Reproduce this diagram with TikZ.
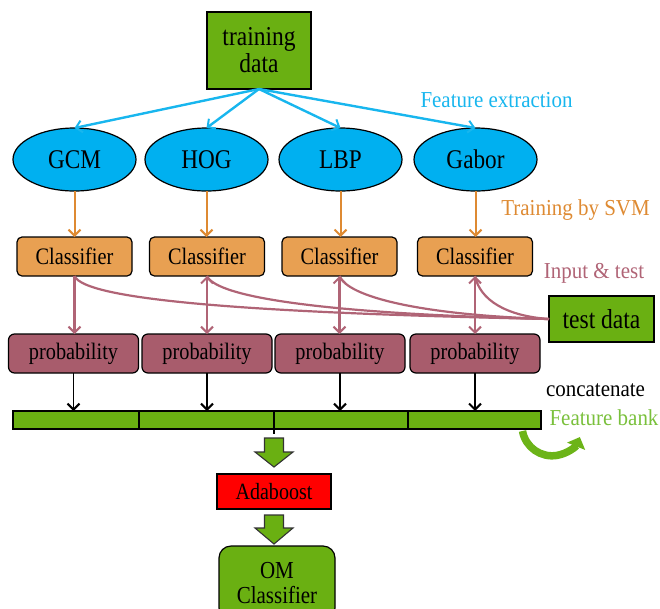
\documentclass[tikz,border=0pt]{standalone}
\usepackage{fontspec}
\setmainfont{Liberation Serif}
\newfontfamily\condf{Liberation Serif}[FakeStretch=0.86]
\newfontfamily\labf{Liberation Serif}[FakeStretch=0.92]
\usetikzlibrary{shapes.geometric,arrows.meta,calc}
\definecolor{gfill}{RGB}{106,176,18}
\definecolor{bfill}{RGB}{0,176,240}
\definecolor{bline}{RGB}{24,182,238}
\definecolor{ofill}{RGB}{232,160,82}
\definecolor{oline}{RGB}{222,138,50}
\definecolor{pfill}{RGB}{168,92,108}
\definecolor{pline}{RGB}{176,100,118}
\definecolor{gtext}{RGB}{122,192,60}
\definecolor{garc}{RGB}{108,180,24}
\tikzset{tipb/.tip={Straight Barb[length=6pt,width=12pt,line width=2pt]}}
\begin{document}
\begin{tikzpicture}[x=1pt,y=-1pt,
  every node/.style={inner sep=0pt, outer sep=0pt},
  box/.style={draw=black, line width=1.2pt, align=center, text=black},
  gbox/.style={box, fill=gfill},
  ell/.style={ellipse, draw=black, line width=1.2pt, fill=bfill, minimum width=123pt, minimum height=63pt, font=\condf\fontsize{27}{30}\selectfont},
  clf/.style={box, fill=ofill, rounded corners=5pt, minimum width=115pt, minimum height=39pt, font=\condf\fontsize{23.6}{26}\selectfont},
  prob/.style={box, fill=pfill, rounded corners=6pt, minimum width=130pt, minimum height=39pt, font=\condf\fontsize{23.6}{26}\selectfont},
  seg/.style={draw=black, line width=1.2pt, fill=gfill, minimum height=18pt},
  lab/.style={font=\labf\fontsize{22.8}{24}\selectfont},
  barr/.style={draw=bline, line width=2.4pt, -{tipb}},
  oarr/.style={draw=oline, line width=2pt, -{tipb}},
  pk/.style={draw=pline, line width=2.2pt},
  karr/.style={draw=black, line width=1.9pt, -{tipb}},
  blk/.style={draw=black!80, line width=1.1pt, fill=gfill, line join=miter}
]
\useasboundingbox (0,0) rectangle (660,608);

% training data
\node[gbox, minimum width=104pt, minimum height=77pt, font=\condf\fontsize{27.3}{27}\selectfont] (train) at (259,50.5) {training\\data};

% feature ellipses
\node[ell] (e1) at (74.5,159.5) {GCM};
\node[ell] (e2) at (206.5,159.5) {HOG};
\node[ell] (e3) at (340.5,159.5) {LBP};
\node[ell] (e4) at (475.5,159.5) {Gabor};

\foreach \i in {1,...,4} \draw[barr] (train.south) -- (e\i.north);

% classifiers
\node[clf] (c1) at (74.5,256.5) {Classifier};
\node[clf] (c2) at (207,256.5) {Classifier};
\node[clf] (c3) at (339.5,256.5) {Classifier};
\node[clf] (c4) at (475,256.5) {Classifier};

\foreach \i in {1,...,4} \draw[oarr] (e\i.south) -- (e\i.south |- c\i.north);

% probability
\node[prob] (p1) at (73.5,353.5) {probability};
\node[prob] (p2) at (207,353.5) {probability};
\node[prob] (p3) at (340,353.5) {probability};
\node[prob] (p4) at (475,353.5) {probability};

% test data
\node[gbox, minimum width=105pt, minimum height=46pt, font=\condf\fontsize{27.4}{28}\selectfont] (tdata) at (601.5,319) {test data};

% pink connectors
\draw[pk] (tdata.west) .. controls +(-298,-6) and +(10.5,24) .. (c1.south);
\draw[pk] (tdata.west) .. controls +(-218,-5) and +(10,22) .. (c2.south);
\draw[pk] (tdata.west) .. controls +(-128,-4) and +(8.5,21) .. (c3.south);
\draw[pk] (tdata.west) .. controls +(-43,-3) and +(5,24) .. (c4.south);
\draw[pk, -{tipb}] (c1.south) -- (c1.south |- p1.north);
\foreach \i in {2,3,4} \draw[pk, {tipb}-{tipb}] (c\i.south) -- (c\i.south |- p\i.north);

% feature bank bar
\node[seg, minimum width=126pt] (s1) at (76,420) {};
\node[seg, minimum width=135pt] (s2) at (206.5,420) {};
\node[seg, minimum width=134pt] (s3) at (341,420) {};
\node[seg, minimum width=133pt] (s4) at (474.5,420) {};
\draw[line width=1.2pt] (s3.south west) -- ++(0,5);

\foreach \i in {1,...,4} \draw[karr] (p\i.south) -- (p\i.south |- s\i.north);

% labels
\node[lab, text=bline] (lfe) at (496.5,100) {Feature extraction};
\node[lab, text=oline] (lsvm) at (575.5,210) {Training by SVM};
\node[lab, text=pline] (lin) at (594,273) {Input \& test};
\node[lab, text=black] (lcat) at (595.5,390) {concatenate};
\node[lab, text=gtext] (lfb) at (604,418) {Feature bank};

% curved green arrow
\draw[draw=garc, line width=7.5pt, -{Triangle[length=10pt,width=19pt]}] (522.5,431) arc[start angle=170, end angle=22, radius=30];

% block arrows
\coordinate (ba1) at (274,438);
\coordinate (ba2) at (274,515);
\draw[blk] (ba1) ++(-9.5,0) -- ++(19,0) -- ++(0,14) -- ++(9.5,0) -- ++(-19,15) -- ++(-19,-15) -- ++(9.5,0) -- cycle;
\draw[blk] (ba2) ++(-9.5,0) -- ++(19,0) -- ++(0,13) -- ++(9.5,0) -- ++(-19,16) -- ++(-19,-16) -- ++(9.5,0) -- cycle;

% Adaboost and OM classifier
\node[box, fill=red, minimum width=114pt, minimum height=35pt, font=\condf\fontsize{23.3}{25}\selectfont] (ada) at (274,491.5) {Adaboost};
\node[box, fill=gfill, rounded corners=12pt, minimum width=116pt, minimum height=74pt, font=\condf\fontsize{24.4}{25}\selectfont] (om) at (277,583) {OM\\Classifier};
\end{tikzpicture}
\end{document}
